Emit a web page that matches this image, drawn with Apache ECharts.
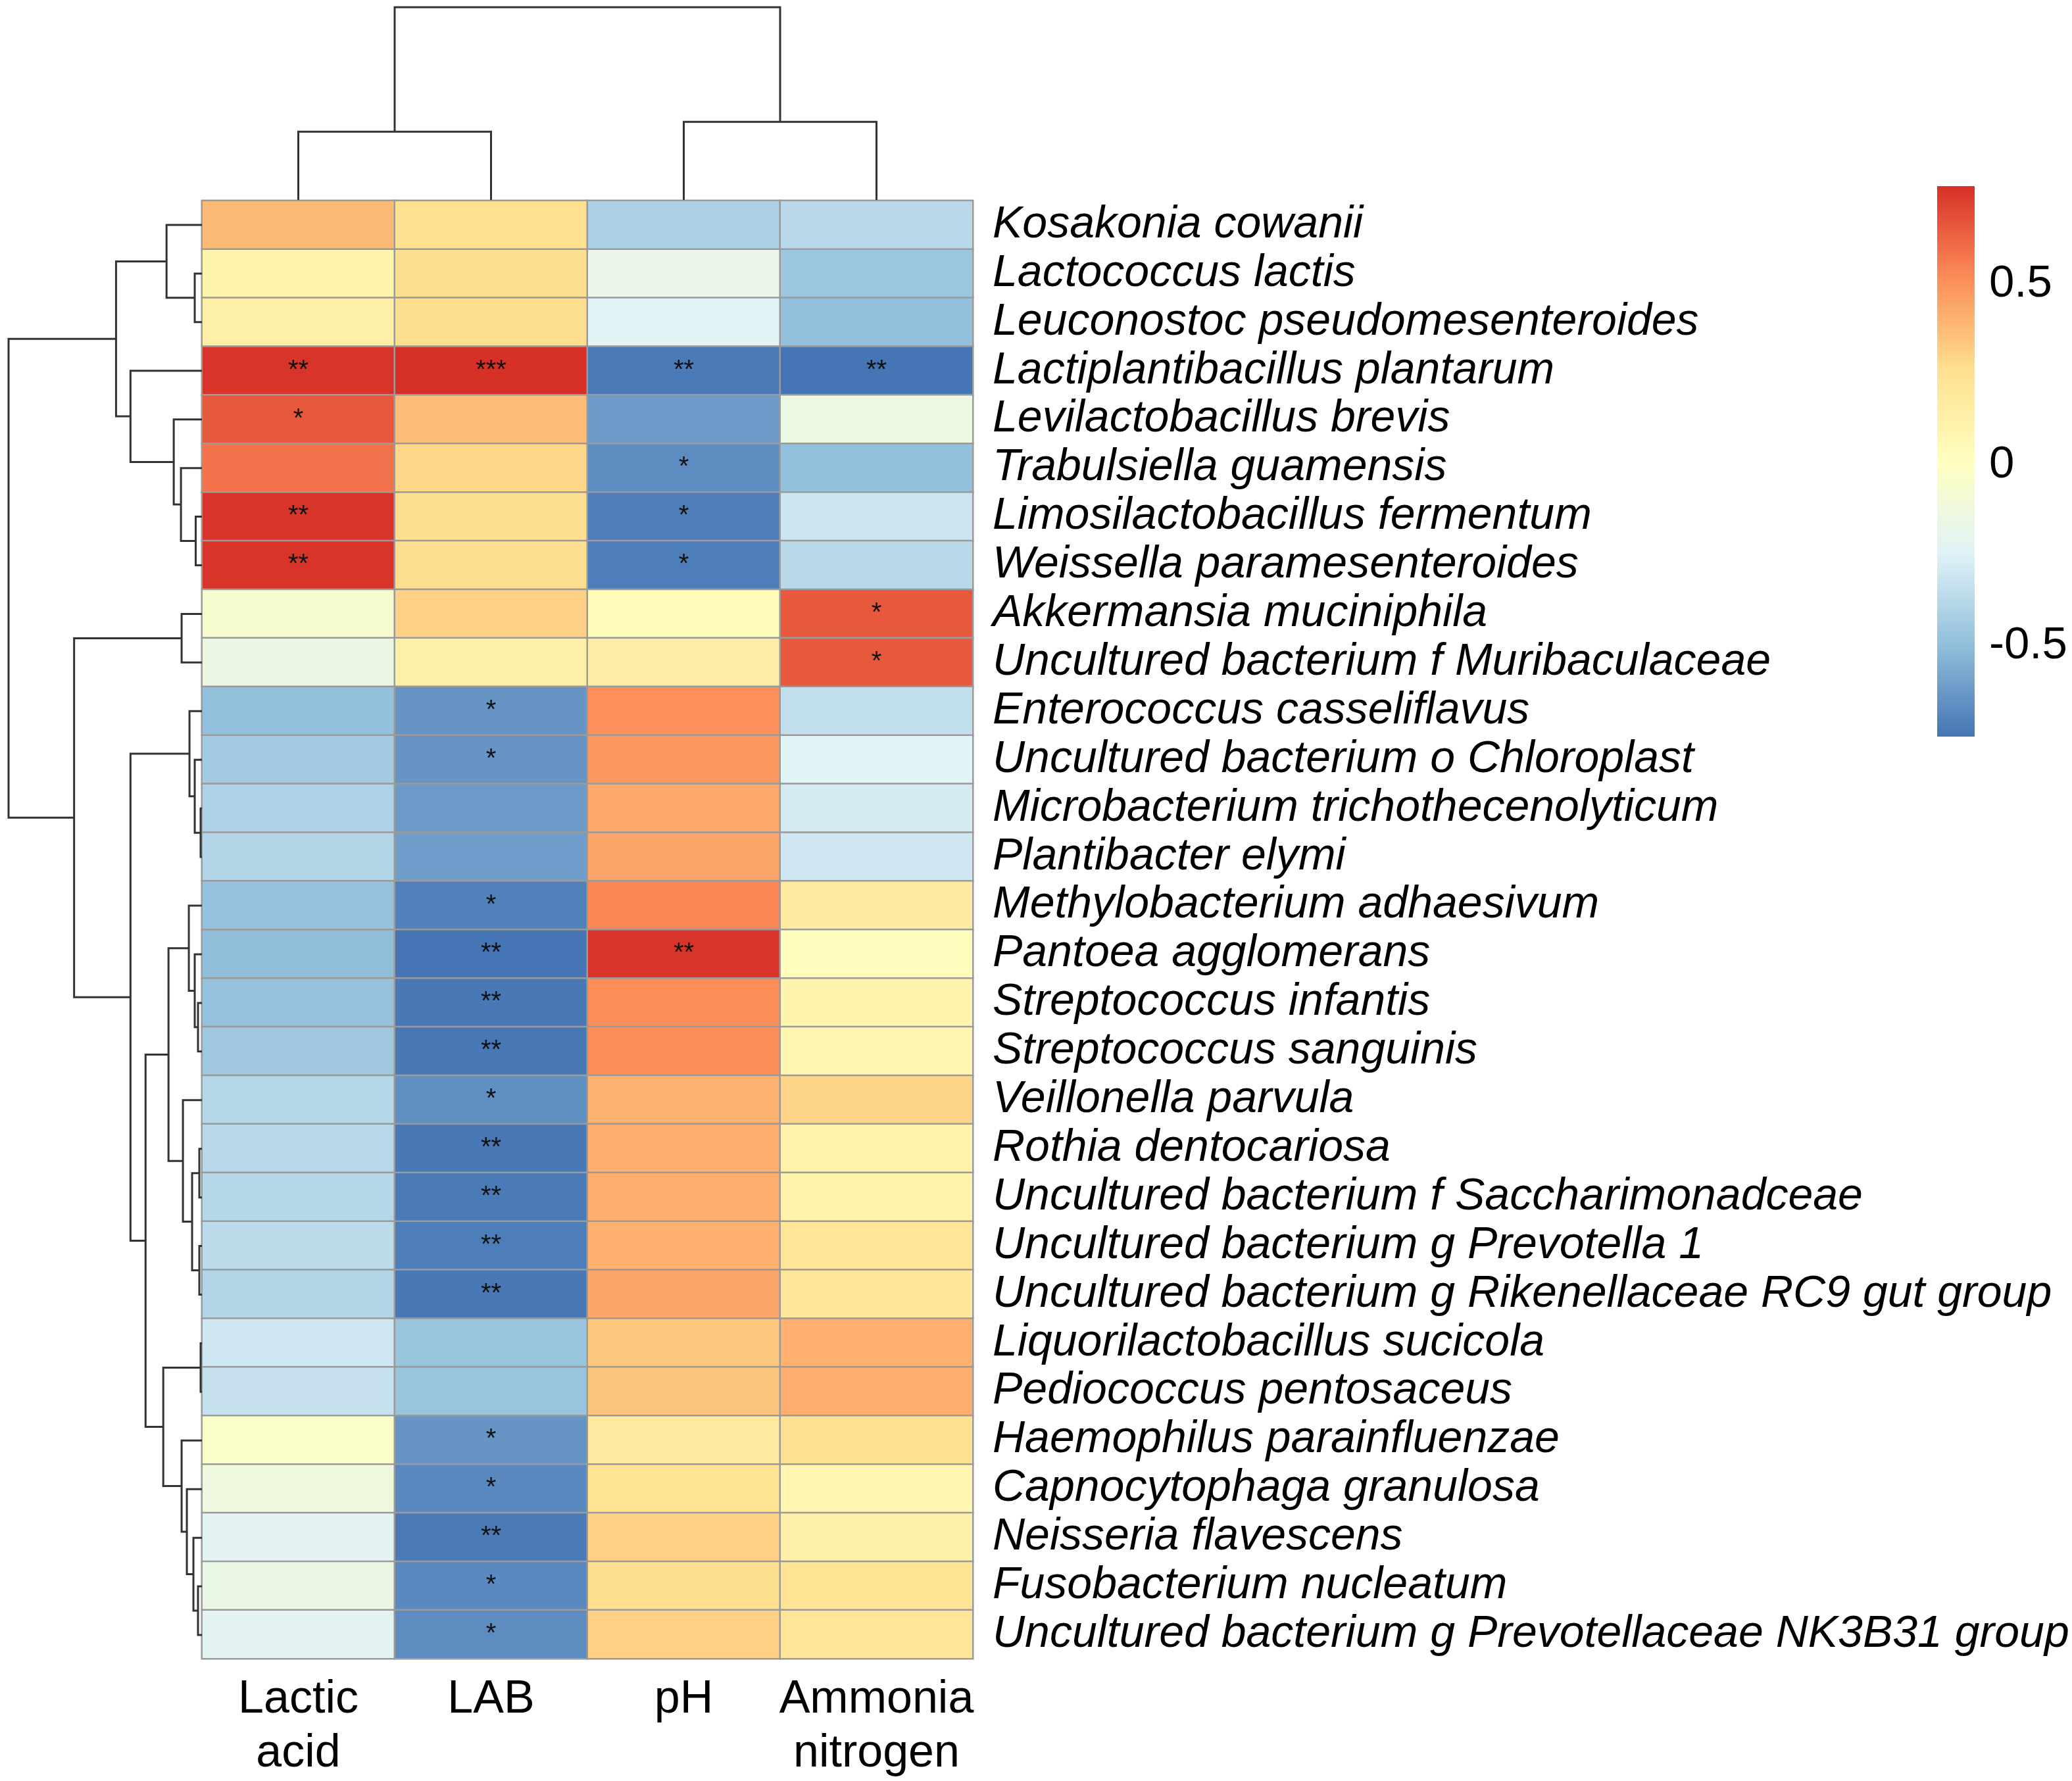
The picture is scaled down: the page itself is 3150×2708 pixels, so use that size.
<!DOCTYPE html>
<html>
<head>
<meta charset="utf-8">
<script src="https://cdn.jsdelivr.net/npm/echarts@6/dist/echarts.min.js"></script>
<style>
html,body{margin:0;padding:0;background:#fff;}
#chart{width:3150px;height:2708px;}
</style>
</head>
<body>
<div id="chart"></div>
<script>
// ---------------- data ----------------
const columns = ['Lactic\nacid', 'LAB', 'pH', 'Ammonia\nnitrogen'];
const rows = [
  'Kosakonia cowanii',
  'Lactococcus lactis',
  'Leuconostoc pseudomesenteroides',
  'Lactiplantibacillus plantarum',
  'Levilactobacillus brevis',
  'Trabulsiella guamensis',
  'Limosilactobacillus fermentum',
  'Weissella paramesenteroides',
  'Akkermansia muciniphila',
  'Uncultured bacterium f Muribaculaceae',
  'Enterococcus casseliflavus',
  'Uncultured bacterium o Chloroplast',
  'Microbacterium trichothecenolyticum',
  'Plantibacter elymi',
  'Methylobacterium adhaesivum',
  'Pantoea agglomerans',
  'Streptococcus infantis',
  'Streptococcus sanguinis',
  'Veillonella parvula',
  'Rothia dentocariosa',
  'Uncultured bacterium f Saccharimonadceae',
  'Uncultured bacterium g Prevotella 1',
  'Uncultured bacterium g Rikenellaceae RC9 gut group',
  'Liquorilactobacillus sucicola',
  'Pediococcus pentosaceus',
  'Haemophilus parainfluenzae',
  'Capnocytophaga granulosa',
  'Neisseria flavescens',
  'Fusobacterium nucleatum',
  'Uncultured bacterium g Prevotellaceae NK3B31 group'
];

const lacticAcid = [0.38, 0.10, 0.14, 0.76, 0.66, 0.59, 0.76, 0.76, -0.06, -0.15,
  -0.49, -0.44, -0.40, -0.39, -0.48, -0.50, -0.48, -0.45, -0.38, -0.37,
  -0.38, -0.36, -0.39, -0.30, -0.33, -0.04, -0.13, -0.22, -0.16, -0.22];
const lab = [0.26, 0.27, 0.27, 0.77, 0.37, 0.29, 0.27, 0.27, 0.31, 0.14,
  -0.64, -0.64, -0.62, -0.61, -0.71, -0.75, -0.74, -0.74, -0.66, -0.74,
  -0.73, -0.72, -0.74, -0.47, -0.47, -0.64, -0.68, -0.73, -0.68, -0.67];
const ph = [-0.41, -0.17, -0.23, -0.73, -0.62, -0.67, -0.72, -0.72, 0.04, 0.15,
  0.51, 0.48, 0.43, 0.44, 0.53, 0.76, 0.52, 0.52, 0.40, 0.42,
  0.42, 0.41, 0.44, 0.34, 0.35, 0.19, 0.24, 0.31, 0.27, 0.31];
const ammoniaN = [-0.37, -0.46, -0.49, -0.75, -0.14, -0.49, -0.31, -0.37, 0.66, 0.66,
  -0.34, -0.24, -0.28, -0.30, 0.17, 0.03, 0.10, 0.08, 0.30, 0.12,
  0.12, 0.22, 0.21, 0.41, 0.42, 0.25, 0.08, 0.13, 0.24, 0.22];

const lacticStars = ['', '', '', '**', '*', '', '**', '**', '', '',
  '', '', '', '', '', '', '', '', '', '',
  '', '', '', '', '', '', '', '', '', ''];
const labStars = ['', '', '', '***', '', '', '', '', '', '',
  '*', '*', '', '', '*', '**', '**', '**', '*', '**',
  '**', '**', '**', '', '', '*', '*', '**', '*', '*'];
const phStars = ['', '', '', '**', '', '*', '*', '*', '', '',
  '', '', '', '', '', '**', '', '', '', '',
  '', '', '', '', '', '', '', '', '', ''];
const ammoniaStars = ['', '', '', '**', '', '', '', '', '*', '*',
  '', '', '', '', '', '', '', '', '', '',
  '', '', '', '', '', '', '', '', '', ''];

const colorTicks = [-0.5, 0, 0.5];
const colorMin = -0.75, colorMax = 0.77;
const palette = ['#4575B4', '#91BFDB', '#E0F3F8', '#FFFFBF', '#FEE090', '#FC8D59', '#D73027'];

// hclust-style merges: negative = leaf (-(index+1)), positive = earlier merge (1-based); [left, right, height]
const rowMerges = [
  [-2, -3, 11], [-1, 1, 54], [-7, -8, 9.5], [-6, 3, 32], [-5, 4, 43], [-4, 5, 109], [2, 6, 131],
  [-9, -10, 31], [-13, -14, 2], [-12, 9, 11], [-11, 10, 19], [-17, -18, 6], [-16, 12, 11],
  [-15, 13, 20], [-20, -21, 4], [-22, -23, 4], [15, 16, 15], [-19, 17, 29], [14, 18, 51],
  [-24, -25, 2], [-29, -30, 6], [-28, 21, 13], [-27, 22, 23], [-26, 23, 31], [20, 24, 59],
  [19, 25, 86], [11, 26, 109], [8, 27, 195], [7, 28, 295]
];
const colMerges = [[-1, -2, 103], [-3, -4, 118], [1, 2, 291]];

// ---------------- build ----------------
const valueCols = [lacticAcid, lab, ph, ammoniaN];
const starCols = [lacticStars, labStars, phStars, ammoniaStars];
const heatData = [];
valueCols.forEach((arr, c) => arr.forEach((v, r) => heatData.push({value: [c, r, v], star: starCols[c][r]})));

function buildDendro(merges) {
  const pos = [], hgt = [], segs = [];
  const get = ref => ref < 0 ? {p: -ref - 1, h: 0} : {p: pos[ref - 1], h: hgt[ref - 1]};
  merges.forEach(([a, b, h], i) => {
    const A = get(a), B = get(b);
    pos[i] = (A.p + B.p) / 2; hgt[i] = h;
    segs.push([A.p, A.h, B.p, B.h, h]);
  });
  return segs;
}
const rowSegs = buildDendro(rowMerges);
const colSegs = buildDendro(colMerges);
const rowRoot = rowMerges[rowMerges.length - 1][2];
const colRoot = colMerges[colMerges.length - 1][2];

const FONT = '"Liberation Sans", Arial, sans-serif';
const LINE = {stroke: '#333333', lineWidth: 3, fill: null};

const HX = 307, HY = 305, HW = 1172, HH = 2218;

const chart = echarts.init(document.getElementById('chart'), null, {renderer: 'canvas'});
chart.setOption({
  backgroundColor: '#ffffff',
  animation: false,
  grid: [
    {left: HX, top: HY, width: HW, height: HH},          // heatmap
    {left: 13, top: HY, width: HX - 13, height: HH},      // row dendrogram
    {left: HX, top: 11, width: HW, height: HY - 12},      // column dendrogram
    {left: 2945, top: 283, width: 57, height: 837}        // colour bar
  ],
  xAxis: [
    {gridIndex: 0, type: 'category', data: columns, position: 'bottom',
     axisLine: {show: false}, axisTick: {show: false}, splitLine: {show: false},
     axisLabel: {fontFamily: FONT, fontSize: 70, color: '#000', lineHeight: 82, margin: 22, interval: 0}},
    {gridIndex: 1, type: 'value', min: 0, max: rowRoot, inverse: true, show: false},
    {gridIndex: 2, type: 'value', min: -0.5, max: columns.length - 0.5, show: false},
    {gridIndex: 3, type: 'value', min: 0, max: 1, show: false}
  ],
  yAxis: [
    {gridIndex: 0, type: 'category', data: rows, inverse: true, position: 'right',
     axisLine: {show: false}, axisTick: {show: false}, splitLine: {show: false},
     axisLabel: {fontFamily: FONT, fontSize: 68, fontStyle: 'italic', color: '#000', margin: 30, interval: 0}},
    {gridIndex: 1, type: 'value', min: -0.5, max: rows.length - 0.5, inverse: true, show: false},
    {gridIndex: 2, type: 'value', min: 0, max: colRoot, show: false},
    {gridIndex: 3, type: 'value', min: colorMin, max: colorMax, interval: 0.25, position: 'right',
     axisLine: {show: false}, axisTick: {show: false}, splitLine: {show: false},
     axisLabel: {fontFamily: FONT, fontSize: 69, color: '#000', margin: 22, showMinLabel: true, showMaxLabel: true,
       formatter: v => colorTicks.some(t => Math.abs(t - v) < 1e-6) ? String(Math.round(v * 10) / 10) : ''}}
  ],
  visualMap: {
    type: 'continuous', show: false, seriesIndex: 0,
    min: colorMin, max: colorMax, inRange: {color: palette}
  },
  series: [
    {
      type: 'heatmap', xAxisIndex: 0, yAxisIndex: 0, data: heatData,
      itemStyle: {borderColor: '#9a9a9a', borderWidth: 2.5},
      label: {show: true, fontFamily: FONT, fontSize: 40, color: '#111',
        formatter: p => p.data.star || ''},
      emphasis: {disabled: true}
    },
    {
      type: 'custom', xAxisIndex: 1, yAxisIndex: 1, data: rowSegs, silent: true,
      renderItem: (params, api) => {
        const pA = api.value(0), hA = api.value(1), pB = api.value(2), hB = api.value(3), h = api.value(4);
        return {type: 'polyline', shape: {points: [api.coord([hA, pA]), api.coord([h, pA]), api.coord([h, pB]), api.coord([hB, pB])]}, style: LINE};
      }
    },
    {
      type: 'custom', xAxisIndex: 2, yAxisIndex: 2, data: colSegs, silent: true,
      renderItem: (params, api) => {
        const pA = api.value(0), hA = api.value(1), pB = api.value(2), hB = api.value(3), h = api.value(4);
        return {type: 'polyline', shape: {points: [api.coord([pA, hA]), api.coord([pA, h]), api.coord([pB, h]), api.coord([pB, hB])]}, style: LINE};
      }
    },
    {
      type: 'custom', xAxisIndex: 3, yAxisIndex: 3, data: [[0, colorMin, 1, colorMax]], silent: true,
      renderItem: (params, api) => {
        const p1 = api.coord([api.value(0), api.value(3)]);
        const p2 = api.coord([api.value(2), api.value(1)]);
        const stops = palette.slice().reverse().map((c, i) => ({offset: i / (palette.length - 1), color: c}));
        return {type: 'rect', shape: {x: p1[0], y: p1[1], width: p2[0] - p1[0], height: p2[1] - p1[1]},
          style: {fill: new echarts.graphic.LinearGradient(0, 0, 0, 1, stops)}};
      }
    }
  ]
});
</script>
</body>
</html>
